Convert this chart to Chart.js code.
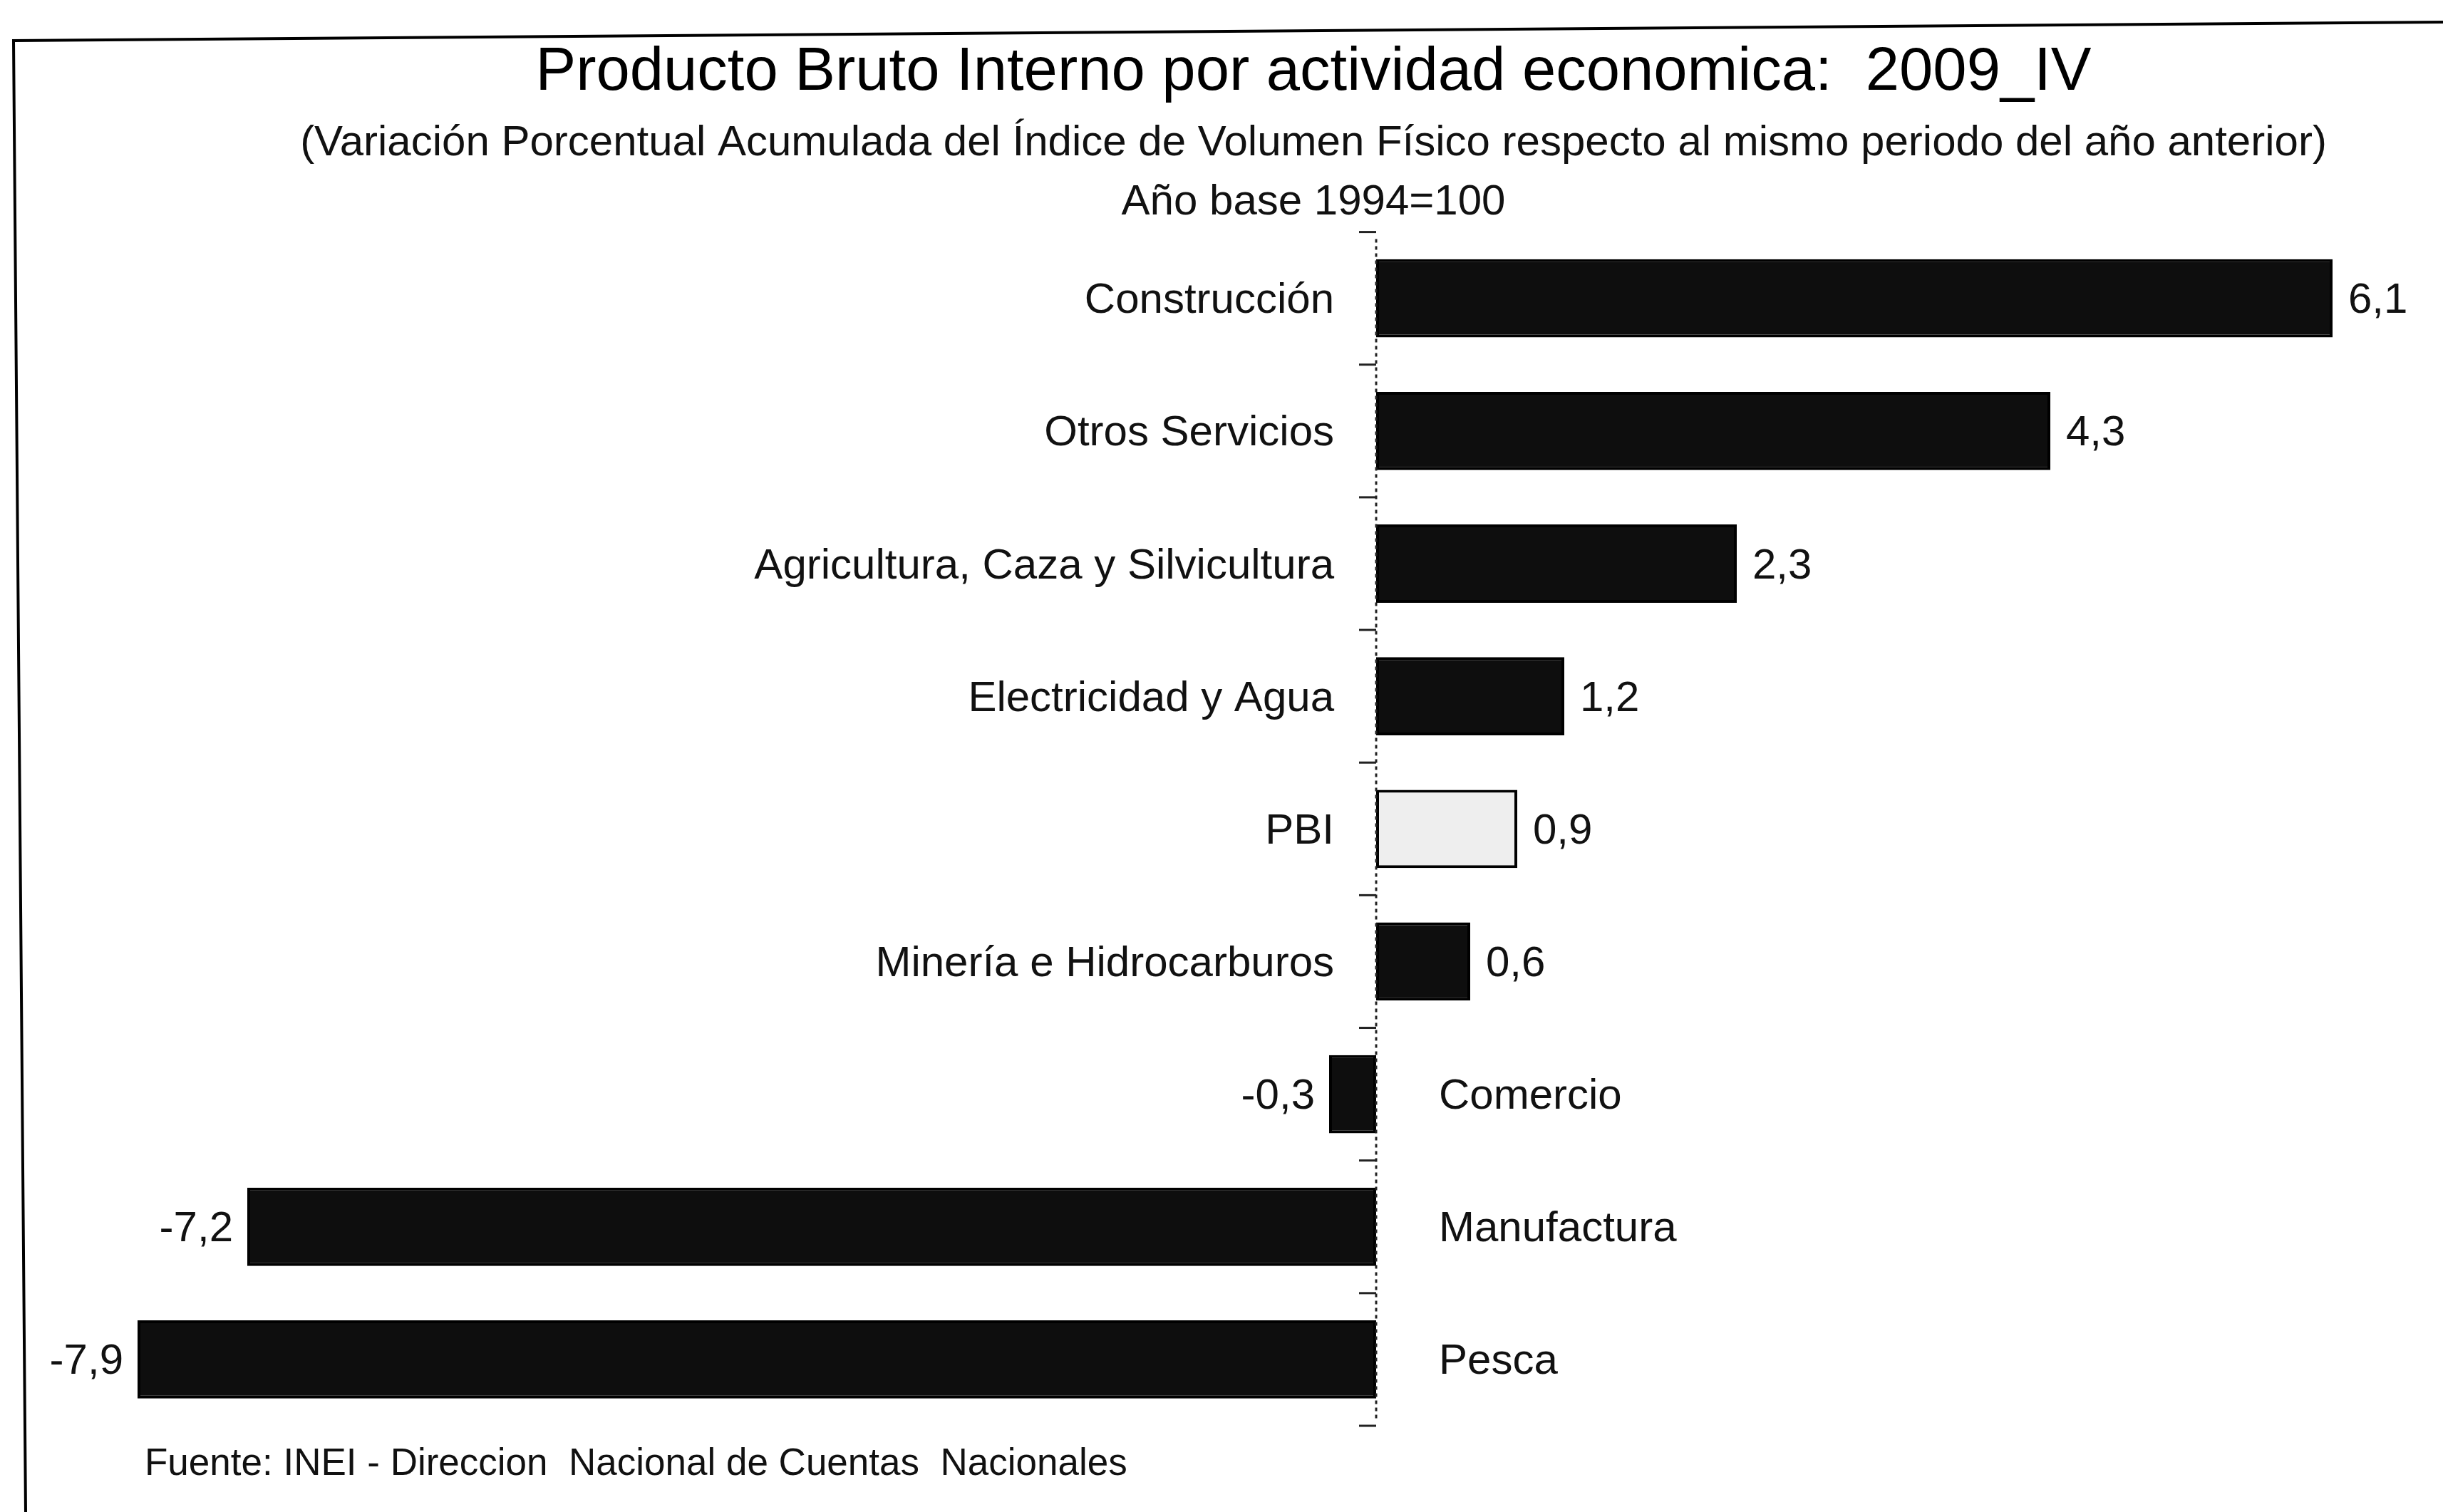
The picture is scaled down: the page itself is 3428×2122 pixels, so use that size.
<!DOCTYPE html>
<html>
<head>
    <title>Producto Bruto Interno por actividad economica</title>
    <script src="https://cdn.jsdelivr.net/npm/chart.js"></script>
    <style>
        body { margin: 0; background: #fff; }
    </style>
</head>
<body>
    <canvas id="pbiChart" width="3428" height="2122"></canvas>

    <script>
        // datos (variacion %, 2009_IV)
        var actividades = [
            "Construcción",
            "Otros Servicios",
            "Agricultura, Caza y Silvicultura",
            "Electricidad y Agua",
            "PBI",
            "Minería e Hidrocarburos",
            "Comercio",
            "Manufactura",
            "Pesca"
        ];
        var variacion = [6.1, 4.3, 2.3, 1.2, 0.9, 0.6, -0.3, -7.2, -7.9];
        var tituloTexto = "Producto Bruto Interno por actividad economica:  2009_IV";
        var subtituloTexto = [
            "(Variación Porcentual Acumulada del Índice de Volumen Físico respecto al mismo periodo del año anterior)",
            "Año base 1994=100"
        ];
        var fuenteTexto = "Fuente: INEI - Direccion  Nacional de Cuentas  Nacionales";

        var fam = '"Liberation Sans", Arial, sans-serif';

        function fmt(v) {
            return v.toFixed(1).replace(".", ",");
        }

        // marco escaneado, eje en cero y rotulos junto a las barras
        var rotulos = {
            id: "rotulos",
            beforeDraw: function (chart) {
                var ctx = chart.ctx;
                ctx.save();
                ctx.fillStyle = "#fff";
                ctx.fillRect(0, 0, chart.width, chart.height);
                ctx.strokeStyle = "#000";
                ctx.lineWidth = 4;
                ctx.beginPath();
                ctx.moveTo(36, chart.height);
                ctx.lineTo(19, 57);
                ctx.lineTo(chart.width, 31);
                ctx.stroke();
                ctx.restore();
            },
            afterDatasetsDraw: function (chart) {
                var ctx = chart.ctx;
                var xs = chart.scales.x, ys = chart.scales.y;
                var x0 = xs.getPixelForValue(0);
                var area = chart.chartArea;
                var meta = chart.getDatasetMeta(0);
                ctx.save();

                // eje vertical punteado con marcas entre categorias
                ctx.strokeStyle = "#222";
                ctx.lineWidth = 3;
                ctx.setLineDash([5, 5]);
                ctx.beginPath();
                ctx.moveTo(x0, area.top + 10);
                ctx.lineTo(x0, area.bottom - 6);
                ctx.stroke();
                ctx.setLineDash([]);
                var step = ys.getPixelForValue(1) - ys.getPixelForValue(0);
                for (var i = 0; i <= actividades.length; i++) {
                    var yy = ys.getPixelForValue(i) - step / 2;
                    ctx.beginPath();
                    ctx.moveTo(x0 - 24, yy);
                    ctx.lineTo(x0, yy);
                    ctx.stroke();
                }

                ctx.fillStyle = "#111";
                ctx.font = "60px " + fam;
                ctx.textBaseline = "middle";
                meta.data.forEach(function (bar, i) {
                    var v = variacion[i];
                    if (v >= 0) {
                        ctx.textAlign = "right";
                        ctx.fillText(actividades[i], x0 - 59, bar.y + 4);
                        ctx.textAlign = "left";
                        ctx.fillText(fmt(v), bar.x + 22, bar.y + 4);
                    } else {
                        ctx.textAlign = "left";
                        ctx.fillText(actividades[i], x0 + 88, bar.y + 4);
                        ctx.textAlign = "right";
                        ctx.fillText(fmt(v), bar.x - 20, bar.y + 4);
                    }
                });

                ctx.textAlign = "left";
                ctx.font = "53px " + fam;
                ctx.fillText(fuenteTexto, 203, 2055);
                ctx.restore();
            }
        };

        var ctx = document.getElementById("pbiChart").getContext("2d");
        new Chart(ctx, {
            type: "bar",
            data: {
                labels: actividades,
                datasets: [{
                    data: variacion,
                    backgroundColor: actividades.map(function (a) { return a === "PBI" ? "#eeeeee" : "#0e0e0e"; }),
                    borderColor: "#000",
                    borderWidth: 4,
                    borderSkipped: false,
                    categoryPercentage: 1,
                    barPercentage: 0.59,
                    clip: false
                }]
            },
            options: {
                indexAxis: "y",
                responsive: false,
                animation: false,
                devicePixelRatio: 1,
                layout: {
                    padding: { top: 20, left: 270, right: 12, bottom: 121 }
                },
                plugins: {
                    legend: { display: false },
                    tooltip: { enabled: false },
                    title: {
                        display: true,
                        text: tituloTexto,
                        color: "#000",
                        font: { family: fam, size: 85, weight: "normal", lineHeight: 1.2 },
                        padding: { top: 32, bottom: 6 }
                    },
                    subtitle: {
                        display: true,
                        text: subtituloTexto,
                        color: "#111",
                        font: { family: fam, size: 60, lineHeight: 1.38 },
                        padding: { top: 0, bottom: 0 }
                    }
                },
                scales: {
                    x: {
                        display: false,
                        min: -7.55,
                        max: 6.75
                    },
                    y: {
                        display: false
                    }
                }
            },
            plugins: [rotulos]
        });
    </script>
</body>
</html>
